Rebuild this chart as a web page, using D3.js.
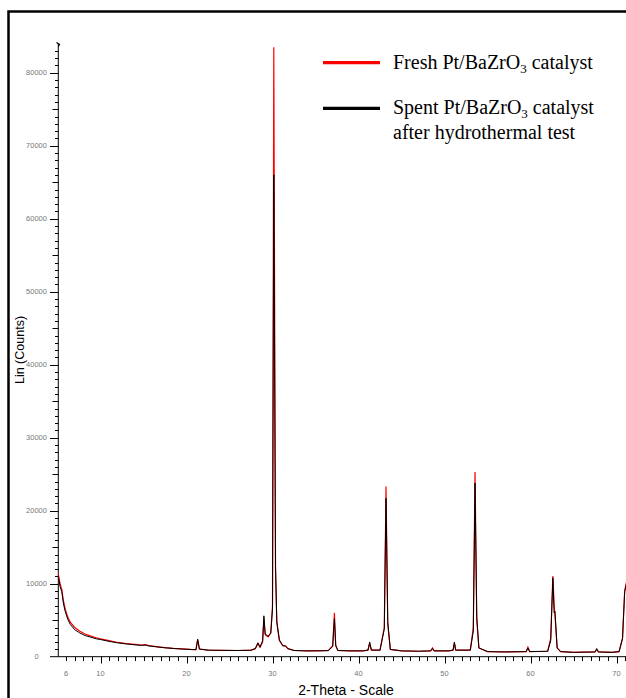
<!DOCTYPE html>
<html>
<head>
<meta charset="utf-8">
<script src="https://cdn.jsdelivr.net/npm/d3@7/dist/d3.min.js"></script>
<style>
  body { margin: 0; background: #fff; }
  svg { display: block; }
</style>
</head>
<body>
<div id="chart"></div>
<script>
// 2-theta positions (deg)
const twoTheta = [
  5.05, 5.3, 5.5, 5.7, 5.9, 6.2, 6.5, 7.0, 7.6, 8.2, 8.8, 9.5, 10.0, 11.0, 12.0, 13.0, 14.0,
  14.8, 15.2, 15.6, 16.5, 17.5, 18.5, 19.5, 20.5, 21.1, 21.3, 21.5, 22.5, 24.0, 26.0, 27.5,
  28.0, 28.3, 28.55, 28.85, 29.0, 29.15, 29.5, 29.8, 30.0, 30.15, 30.35, 30.5, 30.8, 31.2,
  31.5, 31.8, 32.5, 34.0, 35.5, 36.5, 37.0, 37.2, 37.35, 37.6, 39.0, 40.5, 41.1, 41.3, 41.5,
  42.5, 43.0, 43.2, 43.4, 43.7, 45.0, 47.0, 48.4, 48.6, 48.8, 50.5, 51.0, 51.15, 51.3, 53.0,
  53.35, 53.55, 53.75, 54.0, 55.0, 57.0, 59.5, 59.7, 59.9, 62.0, 62.35, 62.6, 62.75, 62.85,
  63.1, 63.5, 65.0, 67.5, 67.7, 67.9, 69.5, 70.3, 70.7, 70.95, 71.3
];
const fresh = [
  11600, 10000, 9200, 7600, 6500, 5400, 4700, 4000, 3500, 3100, 2850, 2600, 2450, 2200, 1950, 1800, 1680,
  1600, 1650, 1520, 1380, 1250, 1150, 1080, 1000, 980, 2300, 1050, 900, 880, 850, 900,
  1100, 1800, 1300, 2000, 5200, 3000, 2700, 3300, 7000, 83500, 12000, 4700, 2200, 1500,
  1500, 1100, 850, 800, 820, 850, 1500, 6000, 1500, 850, 800, 800, 900, 1800, 900,
  900, 4000, 23300, 4500, 1000, 800, 750, 800, 1200, 800, 800, 900, 1900, 900, 900,
  4000, 25300, 5000, 1200, 700, 650, 700, 1300, 700, 750, 2500, 11050, 7000, 5500,
  1200, 700, 600, 650, 1000, 650, 600, 700, 2500, 9000, 11000
];
const spent = [
  11200, 9600, 8900, 7200, 6200, 5100, 4400, 3700, 3250, 2900, 2700, 2450, 2350, 2100, 1900, 1750, 1620,
  1550, 1600, 1480, 1350, 1220, 1120, 1050, 980, 960, 2400, 1050, 900, 870, 850, 880,
  1100, 1900, 1300, 2200, 5600, 3100, 2800, 3200, 6500, 66000, 12500, 4800, 2300, 1500,
  1450, 1100, 850, 800, 800, 830, 1400, 5200, 1600, 850, 800, 800, 900, 2000, 900,
  900, 3800, 21700, 4800, 1000, 800, 750, 800, 1100, 800, 800, 900, 2000, 900, 900,
  3500, 23800, 5500, 1200, 700, 650, 700, 1200, 700, 750, 2200, 10800, 6000, 6200,
  1200, 700, 600, 650, 1100, 650, 600, 700, 2500, 8900, 10800
];
const xTickLabels = [6, 10, 20, 30, 40, 50, 60, 70];
const yTickLabels = [0, 10000, 20000, 30000, 40000, 50000, 60000, 70000, 80000];
const legendItems = [
  { name: "Fresh", color: "#ff0000", lines: [["Fresh Pt/BaZrO", "3", " catalyst"]] },
  { name: "Spent", color: "#000000", lines: [["Spent Pt/BaZrO", "3", " catalyst"], ["after hydrothermal test"]] }
];

const W = 626, H = 698;
const svg = d3.select("#chart").append("svg")
  .attr("width", W).attr("height", H);

// outer frame
svg.append("rect")
  .attr("x", 8.5).attr("y", 11.5)
  .attr("width", 800).attr("height", 900)
  .attr("fill", "none").attr("stroke", "#000").attr("stroke-width", 2.5);

const x = d3.scaleLinear().domain([10, 70]).range([100.5, 616.5]);
const y = d3.scaleLinear().domain([0, 84000]).range([656.7, 43.5]);

// y axis
const yAx = svg.append("g").attr("class", "y-axis");
yAx.append("line")
  .attr("x1", 58.3).attr("x2", 58.3)
  .attr("y1", y(84000)).attr("y2", y(0))
  .attr("stroke", "#000").attr("stroke-width", 1);
yAx.selectAll("line.tick")
  .data(d3.range(1000, 84000, 1000))
  .join("line")
  .attr("class", "tick")
  .attr("x1", d => d % 10000 === 0 ? 50 : (d % 5000 === 0 ? 52.5 : 55))
  .attr("x2", 58.3)
  .attr("y1", d => Math.round(y(d)) + 0.5)
  .attr("y2", d => Math.round(y(d)) + 0.5)
  .attr("stroke", "#000").attr("stroke-width", 1);
yAx.selectAll("text")
  .data(yTickLabels)
  .join("text")
  .attr("x", 36.5)
  .attr("y", d => y(d))
  .attr("dy", "0.35em")
  .attr("text-anchor", "middle")
  .style("font", "7.5px 'Liberation Sans', Arial, sans-serif")
  .attr("fill", "#777")
  .text(d => d);
// little hook at the top of the axis
yAx.append("path")
  .attr("d", `M56.5,${y(84000) - 1} L59.5,${y(84000) + 1} L58.3,${y(84000) + 3}`)
  .attr("fill", "none").attr("stroke", "#000").attr("stroke-width", 1.2);

// x axis
const xAx = svg.append("g").attr("class", "x-axis");
xAx.append("line")
  .attr("x1", 50).attr("x2", W)
  .attr("y1", 656.7).attr("y2", 656.7)
  .attr("stroke", "#000").attr("stroke-width", 1);
xAx.selectAll("line.tick")
  .data(d3.range(6, 73, 1))
  .join("line")
  .attr("class", "tick")
  .attr("x1", d => Math.round(x(d)) + 0.5)
  .attr("x2", d => Math.round(x(d)) + 0.5)
  .attr("y1", 656.7)
  .attr("y2", d => d % 10 === 0 ? 663.5 : 661)
  .attr("stroke", "#000").attr("stroke-width", 1);
xAx.selectAll("text")
  .data(xTickLabels)
  .join("text")
  .attr("x", d => x(d))
  .attr("y", 673)
  .attr("dy", "0.35em")
  .attr("text-anchor", "middle")
  .style("font", "7.5px 'Liberation Sans', Arial, sans-serif")
  .attr("fill", "#777")
  .text(d => d);

// axis titles
svg.append("text")
  .attr("transform", "translate(24,350) rotate(-90)")
  .attr("text-anchor", "middle")
  .style("font", "12.5px 'Liberation Sans', Arial, sans-serif")
  .attr("fill", "#000")
  .text("Lin (Counts)");
svg.append("text")
  .attr("x", 346).attr("y", 695)
  .attr("text-anchor", "middle")
  .style("font", "14px 'Liberation Sans', Arial, sans-serif")
  .attr("fill", "#000")
  .text("2-Theta - Scale");

// patterns
svg.append("clipPath").attr("id", "plot-clip")
  .append("rect").attr("x", 58.3).attr("y", 0).attr("width", W).attr("height", 656.7);

const line = d3.line()
  .x(d => x(d[0]))
  .y(d => y(d[1]));

const freshPts = twoTheta.map((t, i) => [t, fresh[i]]);
const spentPts = twoTheta.map((t, i) => [t, spent[i]]);

const plot = svg.append("g").attr("clip-path", "url(#plot-clip)");
plot.append("path")
  .datum(freshPts)
  .attr("d", line)
  .attr("fill", "none").attr("stroke", "#ff0000").attr("stroke-width", 1.2);
plot.append("path")
  .datum(spentPts)
  .attr("d", line)
  .attr("fill", "none").attr("stroke", "#000").attr("stroke-width", 1);

// legend
const leg = svg.append("g").attr("class", "legend");
legendItems.forEach((item, i) => {
  const ry = i === 0 ? 62.7 : 108.3;
  leg.append("line")
    .attr("x1", 323).attr("x2", 380)
    .attr("y1", ry).attr("y2", ry)
    .attr("stroke", item.color).attr("stroke-width", 3.2);
  item.lines.forEach((parts, j) => {
    const t = leg.append("text")
      .attr("x", 393)
      .attr("y", ry + 6 + j * 25)
      .style("font", "20px 'Liberation Serif', 'Times New Roman', serif")
      .attr("fill", "#000");
    t.append("tspan").text(parts[0]);
    if (parts.length > 1) {
      t.append("tspan").attr("dy", 4).style("font-size", "13px").text(parts[1]);
      t.append("tspan").attr("dy", -4).text(parts[2]);
    }
  });
});
</script>
</body>
</html>
